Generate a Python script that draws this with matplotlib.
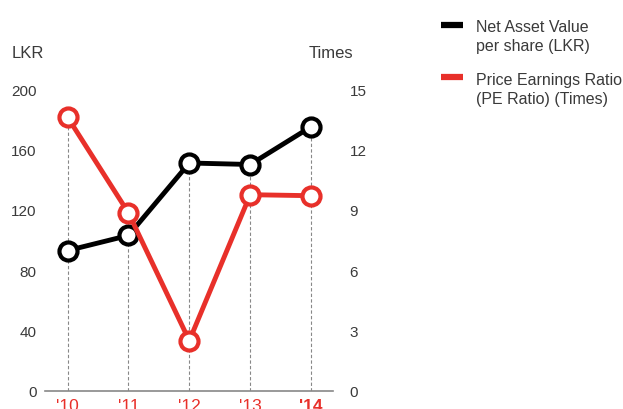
import matplotlib
matplotlib.use("Agg")
import matplotlib.pyplot as plt
from matplotlib.lines import Line2D

years = ["'10", "'11", "'12", "'13", "'14"]
nav = [93, 103, 151, 150, 175]
pe = [13.6, 8.85, 2.5, 9.75, 9.7]

left_ticks = [0, 40, 80, 120, 160, 200]
right_ticks = [0, 3, 6, 9, 12, 15]
legend_labels = ["Net Asset Value\nper share (LKR)", "Price Earnings Ratio\n(PE Ratio) (Times)"]

RED = "#E8302A"
TXT = "#3a3a3a"
plt.rcParams['font.family'] = ['Liberation Sans', 'DejaVu Sans']

fig = plt.figure(figsize=(6.23, 4.10), dpi=100)
ax = fig.add_axes([45/623, 1-392/410, (333-45)/623, (392-90)/410])
ax2 = ax.twinx()

x = list(range(len(years)))
ax.set_xlim(-0.37, 4.36)
ax.set_ylim(0, 200)
ax2.set_ylim(0, 15)

pe_left = [v * 200 / 15 for v in pe]
for xi, a, b in zip(x, nav, pe_left):
    ax.plot([xi, xi], [0, max(a, b)], ls=(0, (3, 2)), color="#888888", lw=0.8, zorder=1)

ax.plot(x, nav, color="black", lw=3.5, marker="o", ms=13, mfc="white", mec="black", mew=3, zorder=3, clip_on=False)
ax2.plot(x, pe, color=RED, lw=3.5, marker="o", ms=13, mfc="white", mec=RED, mew=3, zorder=3, clip_on=False)

for a in (ax, ax2):
    for s in ["top", "left", "right", "bottom"]:
        a.spines[s].set_visible(False)
ax.spines["bottom"].set_visible(True)
ax.spines["bottom"].set_color("#888888")
ax.spines["bottom"].set_linewidth(1.2)

ax.set_yticks(left_ticks)
ax.set_yticklabels([str(t) for t in left_ticks])
ax2.set_yticks(right_ticks)
ax2.set_yticklabels([str(t) for t in right_ticks])
ax.tick_params(axis="y", length=0, pad=6, labelsize=11, labelcolor=TXT)
ax2.tick_params(axis="y", length=0, pad=12, labelsize=11, labelcolor=TXT)

ax.set_xticks(x)
ax.set_xticklabels(years)
ax.tick_params(axis="x", length=0, pad=5, labelsize=12.5, labelcolor=RED)
ax.get_xticklabels()[-1].set_fontweight("bold")

fig.text(12/623, 1-53/410, "LKR", fontsize=12, color=TXT, va="center", ha="left")
fig.text(353/623, 1-53/410, "Times", fontsize=12, color=TXT, va="center", ha="right")

# manual legend
colors = ["black", RED]
handle_y = [26, 78]
last_base = [51, 104]
for c, hy, ty, lab in zip(colors, handle_y, last_base, legend_labels):
    fig.add_artist(Line2D([441/623, 463/623], [1-hy/410, 1-hy/410], color=c, lw=4.5,
                          solid_capstyle="butt", transform=fig.transFigure))
    fig.text(476/623, 1-ty/410, lab, fontsize=11.5, color=TXT, va="baseline", ha="left",
             linespacing=1.31)

fig.savefig("out.png", dpi=100)
